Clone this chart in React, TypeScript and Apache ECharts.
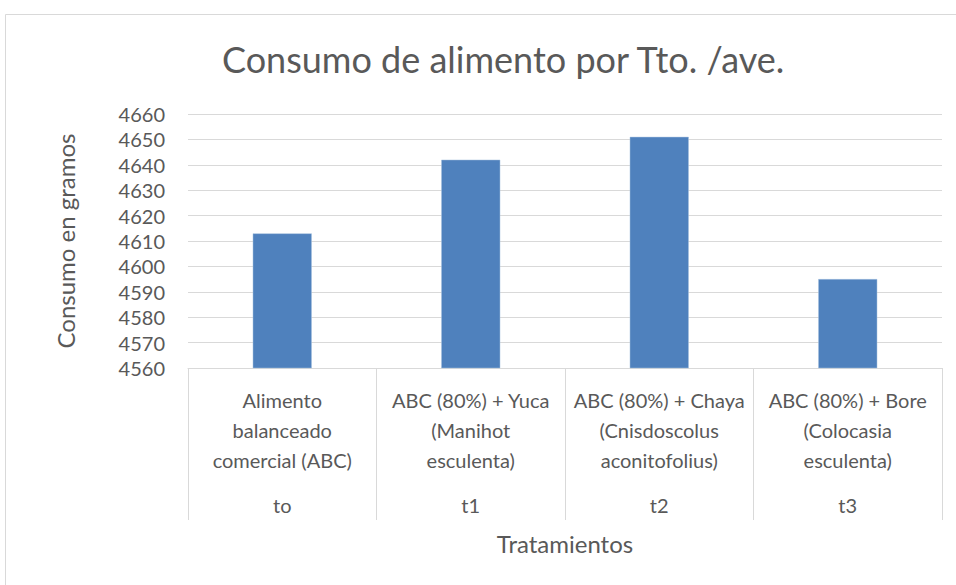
import React, { useEffect, useRef } from "react";
import * as echarts from "echarts";

const codes = ["to", "t1", "t2", "t3"];
const descriptions = [
  "Alimento\nbalanceado\ncomercial (ABC)",
  "ABC (80%) + Yuca\n(Manihot\nesculenta)",
  "ABC (80%) + Chaya\n(Cnisdoscolus\naconitofolius)",
  "ABC (80%) + Bore\n(Colocasia\nesculenta)",
];
const consumo = [4613, 4642, 4651, 4595];
const titleText = "Consumo de alimento por Tto. /ave.";
const yName = "Consumo en gramos";
const xName = "Tratamientos";

export default function App() {
  const ref = useRef<HTMLDivElement>(null);
  useEffect(() => {
    if (!ref.current) return;
    const chart = echarts.init(ref.current, null, { renderer: "svg" });
    const font = "Lato";
    const txt = "#595959";
    chart.setOption({
      animation: false,
      backgroundColor: "#ffffff",
      textStyle: { fontFamily: font },
      title: {
        text: titleText,
        left: 217,
        top: 36,
        textStyle: { fontFamily: font, fontSize: 36, fontWeight: "normal", color: txt },
      },
      graphic: [
        {
          type: "rect",
          shape: { x: 5.5, y: 14.5, width: 1000, height: 1000 },
          style: { fill: "none", stroke: "#d9d9d9", lineWidth: 1 },
          silent: true,
        },
      ],
      grid: { left: 188, right: 14, top: 114, bottom: 217 },
      xAxis: {
        type: "category",
        data: codes.map((c, i) => descriptions[i] + "\n" + c),
        axisLine: { show: true, lineStyle: { color: "#d9d9d9", width: 1 } },
        axisTick: { show: true, length: 152, interval: 0, alignWithLabel: false, lineStyle: { color: "#d9d9d9" } },
        axisLabel: {
          interval: 0,
          margin: 17,
          color: txt,
          formatter: (v: string) => {
            const parts = v.split("\n");
            const code = parts.pop();
            return parts.map((p) => "{a|" + p + "}").join("\n") + "\n{b|" + code + "}";
          },
          rich: {
            a: { fontFamily: font, fontSize: 20, color: txt, lineHeight: 30, align: "center" },
            b: { fontFamily: font, fontSize: 20, color: txt, lineHeight: 60, align: "center" },
          },
        },
        name: xName,
        nameLocation: "middle",
        nameGap: 163,
        nameTextStyle: { fontFamily: font, fontSize: 24, color: txt },
      },
      yAxis: {
        type: "value",
        min: 4560,
        max: 4660,
        interval: 10,
        axisLine: { show: false },
        axisTick: { show: false },
        axisLabel: {
          color: txt,
          fontFamily: font,
          fontSize: 20,
          margin: 23,
          formatter: (v: number) => String(v),
        },
        splitLine: { lineStyle: { color: "#d9d9d9", width: 1 } },
        name: yName,
        nameLocation: "middle",
        nameGap: 111,
        nameRotate: 90,
        nameTextStyle: { fontFamily: font, fontSize: 24, color: txt },
      },
      series: [
        {
          type: "bar",
          data: consumo,
          barWidth: 59,
          itemStyle: { color: "#4f81bd", borderColor: "#a7c0de", borderWidth: 0.5 },
        },
      ],
    });
    return () => chart.dispose();
  }, []);
  return (
    <div
      ref={ref}
      style={{ position: "absolute", left: 0, top: 0, width: 956, height: 585 }}
    />
  );
}
